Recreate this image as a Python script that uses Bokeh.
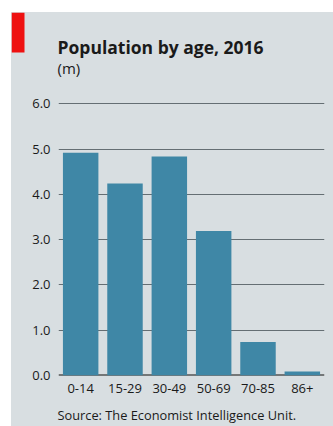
from bokeh.plotting import figure
from bokeh.layouts import column
from bokeh.models import Label, Range1d, FactorRange, SingleIntervalTicker, NumeralTickFormatter
from bokeh.embed import file_html
from bokeh.resources import INLINE

categories = ["0-14", "15-29", "30-49", "50-69", "70-85", "86+"]
values = [4.92, 4.24, 4.84, 3.19, 0.74, 0.09]
title_text = "Population by age, 2016"
unit_text = "(m)"
source_text = "Source: The Economist Intelligence Unit."

BG = "#d8dee1"
BAR = "#3f87a6"
GRID = "#656e73"
TXT = "#1a1a1a"
FONT = "Open Sans"


def panel(height):
    # text panel with pixel-like coordinates, y pointing down
    f = figure(width=322, height=height, x_axis_type=None, y_axis_type=None,
               x_range=Range1d(0, 322), y_range=Range1d(height, 0),
               output_backend="svg", toolbar_location=None,
               min_border=0, min_border_left=0, min_border_right=0,
               min_border_top=0, min_border_bottom=0)
    f.frame_align = False
    f.background_fill_color = BG
    f.border_fill_color = BG
    f.outline_line_color = None
    f.grid.grid_line_color = None
    return f


# header: red tab, title, unit
head = panel(79)
head.quad(left=[0], right=[13], top=[0], bottom=[40], fill_color="#ee1111", line_color=None)
head.add_layout(Label(x=46, y=34, text=title_text,
                      text_font=FONT, text_font_style="bold", text_font_size="17.5px",
                      text_color=TXT, text_baseline="alphabetic"))
head.add_layout(Label(x=46, y=55.5, text=unit_text,
                      text_font=FONT, text_font_size="15px",
                      text_color=TXT, text_baseline="alphabetic"))

# main chart
p = figure(width=322, height=309, x_range=FactorRange(*categories, range_padding=0),
           y_range=Range1d(0, 6.03), output_backend="svg", toolbar_location=None,
           min_border_left=47, min_border_right=9, min_border_top=11, min_border_bottom=25)
p.frame_align = False
p.background_fill_color = BG
p.border_fill_color = BG
p.outline_line_color = None

p.xgrid.grid_line_color = None
p.ygrid.grid_line_color = GRID
p.ygrid.grid_line_width = 1
p.ygrid.ticker = SingleIntervalTicker(interval=1)

p.hspan(y=[0], line_color="#111111", line_width=2)
p.vbar(x=categories, top=values, width=0.8, fill_color=BAR, line_color=None)

ya = p.yaxis[0]
ya.ticker = SingleIntervalTicker(interval=1)
ya.formatter = NumeralTickFormatter(format="0.0")
ya.axis_line_color = None
ya.major_tick_line_color = None
ya.major_tick_out = 0
ya.major_tick_in = 0
ya.minor_tick_line_color = None
ya.major_label_standoff = 4
ya.major_label_text_font = FONT
ya.major_label_text_font_size = "13px"
ya.major_label_text_color = TXT

xa = p.xaxis[0]
xa.axis_line_color = None
xa.major_tick_line_color = None
xa.minor_tick_line_color = None
xa.major_label_standoff = 2
xa.major_label_text_font = FONT
xa.major_label_text_font_size = "13px"
xa.major_label_text_color = TXT

# footer: source
foot = panel(26)
foot.add_layout(Label(x=46, y=14.5, text=source_text,
                      text_font=FONT, text_font_size="12.8px",
                      text_color=TXT, text_baseline="alphabetic"))

layout = column(head, p, foot, spacing=0, margin=(12, 0, 0, 11),
                styles={"background-color": BG})
open("out.html", "w").write(file_html(layout, INLINE))
